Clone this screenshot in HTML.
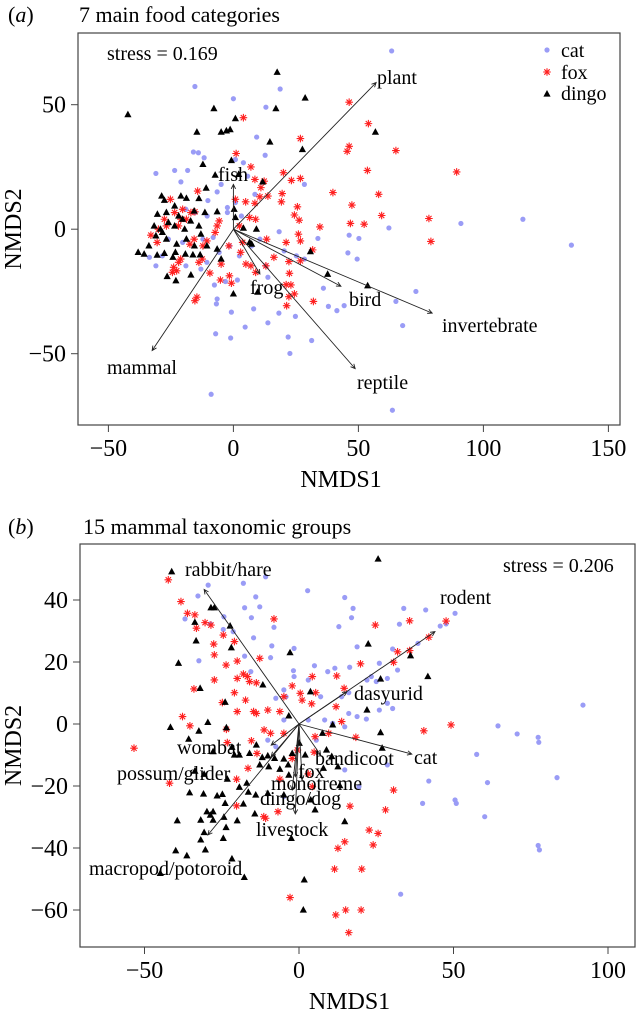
<!DOCTYPE html>
<html><head><meta charset="utf-8"><style>
html,body{margin:0;padding:0;background:#fff;}
svg{display:block;font-family:"Liberation Serif",serif;}
</style></head><body>
<svg id="chart" width="636" height="1019" viewBox="0 0 636 1019" xmlns="http://www.w3.org/2000/svg" font-family="Liberation Serif, serif"></svg>
<script>
// ---------- Panel A data ----------
const catA=[[63.3,71.6],[-15.4,57.3],[18.7,56.3],[0,52.4],[13,49],[9.3,37],[-16,31],[-14,30.7],[-11.7,28.7],[12.7,29.7],[-31,22.4],[-23.5,23.6],[-18.3,23.6],[-21,19],[28.4,18],[-6.5,15],[8.6,14],[-10.2,11.5],[-19,8],[-2.4,6.7],[3.2,5.3],[18.3,-1],[33.8,-3.7],[46.3,-2.4],[50.2,-3.7],[62.2,0.5],[91,2.3],[115.8,4],[135.2,-6.4],[45.8,-9.5],[49.5,-12],[73,-25],[65,-29],[67.7,-38.7],[36,-23.7],[38,-31],[41.4,-32.7],[44.3,-30.7],[18.2,-33.7],[24.8,-35],[13.8,-37.6],[4.7,-39.3],[-7.1,-42],[-1.1,-43.7],[21.9,-43.3],[31.3,-44.7],[22.6,-49.9],[-8.9,-66.3],[63.6,-72.7],[-0.8,-33.3],[8.1,-32],[-6.8,-30],[-6.5,-28],[-7.6,-22.4],[-3.2,-21],[1.6,-20.4],[13.8,-19.3],[-31,-14.7],[-28.4,-10.7],[-19,-14.7],[-13,-16],[-10.6,-13.3],[-33.6,-11.3],[-5.7,-9.3],[-1.6,-6.7],[2.4,-10.7],[7.3,-6.7],[-20.3,-5.3],[-26,-4],[-12.2,-4],[-8.1,-3.3],[-15.4,6.7],[-10.5,5.3],[-2.4,8.7],[0.8,10.7],[5.7,21.3],[4,26.7],[0.8,28],[-4.9,18],[25.2,-10.7],[28.4,-12],[20.3,-8.7],[10.6,-4],[13,-14.7]];
const foxA=[[46.3,51],[4,44.8],[54,42.4],[26.8,36.4],[46.3,33.3],[45.5,31.3],[65,31.6],[1.1,30.4],[7,25],[53.6,23.6],[89.3,23],[20,22.7],[23.2,19.6],[26.8,20.4],[39.8,14.7],[58.1,14],[19.5,14.3],[19.2,11],[25.6,9],[47.4,9.7],[11,16.7],[13.8,13.3],[10.6,13],[4.9,11],[8.6,10.4],[59.3,5.5],[24.4,5.7],[26.3,3.6],[34.6,0.9],[46.8,2.3],[52.3,2],[78.2,4.3],[79,-4.9],[26,-2],[26.8,-4.7],[21.1,-5.3],[13.3,-4],[8.9,4],[6.5,4.7],[2.4,1.3],[31.7,-8.3],[16.2,-11.3],[22.2,-13],[26.8,-12.7],[13,-14.7],[22.4,-17.7],[21.1,-22.3],[23,-22.4],[24.4,-26],[22.2,-27.1],[21.3,-30.7],[32,-29],[8.9,-17.3],[5,-14],[7,-14.7],[3.7,-5.3],[2.9,-9.3],[-1.8,-6.7],[-4.9,-14],[-1.6,-18.7],[-0.8,-21.7],[-5.2,-20.4],[-9.4,-17.6],[-14.6,-27.3],[-15.4,-28.7],[-21.9,-13.3],[-23.9,-15.3],[-22.7,-16.7],[-24.4,-17.3],[-21.1,-12],[-13.8,-13.3],[-12.5,-12],[-15.7,-4],[-17.4,-6],[-12.2,-6.7],[-10.6,-4.7],[-7.3,-1.3],[-6.5,1.3],[-5.7,3.3],[-14.3,15.3],[-25.2,12],[-17,6.7],[-18.8,4],[-22,1.3],[-27.6,4],[-30,0],[-33,-2.4],[-30.5,-5.3],[-26.8,1.3],[-23.5,6.7],[-20.3,8],[-15.4,7],[-21,4],[0.8,12],[8.6,20],[12.3,19.3]];
const dingoA=[[-42.2,46],[17.5,63],[28.7,52.7],[-7.8,48.4],[17,48.4],[0.8,44.4],[-14.6,39],[-4.9,39],[-2.8,39.5],[-1.3,40],[56.8,39],[14.6,35],[27.6,32],[-12.2,26],[-0.8,27.6],[-7.3,21.7],[2.1,22],[11.7,19],[-10.9,16.5],[0.3,8],[-28.7,13.3],[-27.6,11.6],[-21,13.3],[-18.8,12.4],[-13.8,12.3],[-23.5,9.3],[-30.4,6],[-26.8,6.7],[-21.9,5.3],[-15.7,7.3],[-11.4,6.7],[-6.5,7],[0.8,4.7],[4,0.4],[9.2,0],[-31.7,1.3],[-29.2,0],[-26,2.7],[-23.5,1.3],[-20.3,4],[-19.5,0],[-17.1,3.3],[-13.8,1.3],[-13,-2],[-31,-2.7],[-26.8,-4],[-22.7,-6],[-18.8,-4],[-15.6,-6.7],[-10.6,-6.7],[-6.5,-8],[-33.8,-6.7],[-38.1,-9.3],[-35.7,-10],[-30.5,-10.4],[-27.6,-9.7],[-23.2,-9.3],[-19.2,-10],[-16.2,-10.3],[-13.3,-10.3],[-4.9,-12],[6.5,-5.3],[7.3,-6],[30.8,-9],[37.7,-18.1],[53.7,-22.7],[9.7,-25.3],[0,-26],[-26.5,-19],[-23,-20.7],[-17,-18.4],[-24.2,-11.3],[-28.4,-1.3]];
const arrowNamesA=["plant","mammal","fish","frog","bird","invertebrate","reptile"];
const arrowTipsA=[[57.1,58.9],[-32.5,-48.7],[0,18],[10.6,-18],[43,-22.9],[79.5,-33.7],[48.7,-56]];
const xTicksA=[-50,0,50,100,150];
const yTicksA=[-50,0,50];
// ---------- Panel B data ----------
const catB=[[-29.4,44.8],[-18,45.4],[-10.8,47.5],[2.8,43],[14.8,40.8],[-32.7,41.3],[-14,41],[-17.6,37.5],[-12.7,37.8],[17.5,37.3],[33.9,37.3],[41,36.8],[50.5,35.7],[-36.9,33.9],[-28.7,32.3],[-24.3,34.6],[-15.4,34.3],[-8.1,31.2],[12.9,31.4],[17,34.3],[32.5,32.2],[45.7,31.6],[47.6,32.3],[-24.5,30.5],[-21.3,29.8],[-14.7,27.8],[-8.8,25.2],[-1.6,24.4],[18.8,24.9],[30.3,24.2],[38.5,26],[-32.4,20.4],[-17.6,21.9],[-15.6,16.9],[-9.2,21.4],[-1.8,17.2],[5,18.8],[9.3,16.9],[11.6,18],[16.4,18.3],[26,19.6],[31.9,17.4],[-1.6,15.3],[3,14.2],[22,14.2],[23.4,15.3],[25,13.7],[28.6,14.7],[13.8,8.8],[16.1,10.1],[-4.9,11],[-7.5,8.3],[-4.2,8.8],[7,8.8],[26,4.5],[28.6,6.7],[30.3,5],[21.8,1.6],[18.8,2.4],[16.1,3.4],[8.3,1.3],[3,1.3],[10.9,0.2],[14.8,-0.9],[-4.9,1.3],[64.4,-0.6],[70.6,-3.2],[77.4,-4.3],[77.6,-5.9],[91.9,6.1],[57.5,-9.8],[83.5,-17.3],[61,-18.9],[42,-18.4],[40,-25.6],[50.5,-24.5],[50.9,-25.6],[60.1,-29.9],[77.4,-39.2],[77.8,-40.6],[32.9,-54.9],[28.6,-13.2],[14.8,-14.8],[19.4,-20.2],[-4.9,-23.4],[-10.1,-5.2],[-7.5,-7.3],[5.6,-5.2]];
const foxB=[[-42.3,46.5],[-38.2,39.5],[-36.1,35.7],[-33.7,35.2],[-33.2,30.9],[-30.4,32.7],[-28.5,31.9],[-27.6,25.8],[-27.4,22.3],[-27.4,14.2],[-34,11.3],[-24.5,28.7],[-20.9,26.6],[-20,20.3],[-23.6,19],[-20,14.7],[-20.9,10.1],[-24.8,6.9],[-20,4],[-37.7,2.4],[-35.3,-0.6],[-23.5,-1.7],[-53.4,-7.8],[-41.9,-19.1],[-16.7,15.3],[-16,13.7],[-13.8,13.3],[-12.7,21.2],[-8.1,33.9],[-14.7,4],[-13.8,3.4],[-10.1,4.5],[-6.2,4],[-4.9,8.8],[-2.2,12.3],[0.4,9.9],[1,7.7],[4.3,15.3],[5.4,10.1],[4.1,6.5],[12.2,15.5],[14.6,11.5],[12,5.6],[19.9,19.4],[24.7,31.9],[35.8,33.3],[47.6,33.2],[42,28],[30.6,19.9],[31.9,23.3],[35.8,23.7],[13.8,0.8],[9.6,-3],[5.2,-4.1],[-0.5,-8.4],[-2.2,-11.1],[4.9,-9.1],[3,-16.1],[4.3,-20.2],[-6.2,-17.8],[-6.8,-28.3],[-11.4,-29.9],[-10.8,-30.4],[-20.2,-26.4],[-16.5,-14.3],[-11.3,-1.9],[-9.2,-3],[-4.9,-3],[-15.4,-5.4],[-13.6,-9.5],[-23.2,-6],[-20.2,-17.8],[18.4,-4.3],[16.5,-26.5],[28,-27.7],[30.6,-21.3],[40.4,-2.2],[49.2,-0.3],[22.7,-34.2],[25.6,-35.3],[24,-39],[14.8,-38],[12.6,-40.1],[11.5,-46.8],[20.3,-46.8],[-2.9,-56],[11.9,-61.6],[15.1,-60],[20.1,-60],[16.1,-67.3],[-18,16.1],[-17.3,7.7]];
const dingoB=[[-41.2,49.1],[25.6,53.2],[-33.7,32.8],[-28.5,37.5],[-27.4,37.5],[-33.3,26.8],[-22.3,31.6],[-21.9,24.6],[-39,19.6],[-32,11.5],[-2.9,23],[22.4,25.8],[36.1,22],[41.7,15.3],[26.4,14.5],[-23.9,7],[-11.7,12.6],[3.7,10.4],[22,4.5],[-41.6,-1.1],[-32.4,-2.3],[-29.5,0.5],[-23.5,-1.2],[-35.7,-4.9],[-3.3,2.6],[26.4,-2.8],[26.9,-7.8],[10.9,-0.3],[7.6,-3],[-27.8,-8.9],[-21.7,-7.5],[-20.9,-10],[-19.3,-10],[-13.8,-6.8],[-16,-9.5],[-11.9,-10.8],[-10.1,-10.3],[-7.9,-11.1],[-4.9,-11.3],[-2.2,-9.5],[0.1,-6.2],[2,-10],[8.9,-8.4],[10.6,-10.5],[12.6,-13.8],[7.9,-14.3],[-12.7,-13.2],[-9.8,-13.8],[-6.2,-14.6],[-3.5,-13.2],[-3.3,-16.5],[-33.7,-15.2],[-30.7,-16.2],[-23.2,-17.8],[-16.9,-19.1],[-19.3,-20.4],[-16.4,-22],[-14,-22.9],[-10.1,-22.4],[-4.9,-22.9],[3.8,-24.5],[5.2,-27.7],[13.2,-19.9],[-35.4,-22.2],[-30.9,-22.6],[-26.5,-23.2],[-24.8,-22.7],[-23.9,-25.6],[-18,-25.8],[-29.8,-28.3],[-27.8,-28.3],[-28.7,-29.4],[-31.8,-31],[-27.8,-31],[-24.3,-30.1],[-20,-31.2],[-14.3,-29],[-39.4,-31.2],[14.8,-31.5],[-30.7,-35],[-23.6,-33.4],[-31.8,-37.4],[-24.5,-36.9],[-2.5,-36.9],[-30.3,-40.6],[-39.9,-40.9],[-36.3,-42.5],[-21.7,-43.5],[-44.9,-48.2],[-17.7,-49.5],[1.7,-50.3],[1.4,-60]];
const arrowNamesB=["rabbit/hare","rodent","dasyurid","cat","bandicoot","wombat","possum/glider","fox","monotreme","dingo/dog","livestock","macropod/potoroid"];
const arrowTipsB=[[-30.7,43.4],[44,29.8],[15.5,10.4],[36.5,-9.7],[7,-10],[-9,-6.8],[-9,-10.5],[-1.2,-17],[1,-18],[-2.2,-21.3],[-1.2,-29],[-29.5,-35.8]];
const xTicksB=[-50,0,50,100];
const yTicksB=[-60,-40,-20,0,20,40];

const NS="http://www.w3.org/2000/svg";
const svg=document.getElementById('chart');
function mk(tag,attrs,parent){const e=document.createElementNS(NS,tag);for(const k in attrs)e.setAttribute(k,attrs[k]);(parent||svg).appendChild(e);return e;}
function txt(s,x,y,size,anchor,parent){const t=mk('text',{x:x,y:y,'font-size':size,'text-anchor':anchor||'start',fill:'#000','font-family':'Liberation Serif, serif'},parent);t.textContent=s;return t;}

function panel(cfg){
  const g=mk('g',{});
  
  
  const sx=v=>cfg.x0+v*cfg.kx, sy=v=>cfg.y0-v*cfg.ky;
  const box=mk('rect',{x:cfg.L,y:cfg.T,width:cfg.R-cfg.L,height:cfg.B-cfg.T,fill:'none',stroke:'#444','stroke-width':1.2},g);
  
  
  cfg.xt.forEach(v=>{
    const l=mk('line',{x1:sx(v),x2:sx(v),y1:cfg.B,y2:cfg.B+7,stroke:'#444'},g);
    
    
    const t=txt(String(v).replace('-','\u2212'),sx(v),cfg.B+31,24,'middle',g);
    
    
  });
  cfg.yt.forEach(v=>{
    const l=mk('line',{x1:cfg.L-7,x2:cfg.L,y1:sy(v),y2:sy(v),stroke:'#444'},g);
    
    
    const t=txt(String(v).replace('-','\u2212'),cfg.L-12,sy(v)+8,24,'end',g);
    
    
  });
  const xl=txt('NMDS1',(cfg.L+cfg.R)/2-8,cfg.B+62,24,'middle',g);
  
  
  const yl=txt('NMDS2',0,0,24,'middle',g);
  yl.setAttribute('transform','translate(21,'+((cfg.T+cfg.B)/2)+') rotate(-90)');
  
  
  cfg.cat.forEach(p=>{
    const c=mk('circle',{cx:sx(p[0]),cy:sy(p[1]),r:2.6,fill:'#9a9cf6'},g);
    
    
  });
  cfg.fox.forEach(p=>{
    const x=sx(p[0]),y=sy(p[1]),r=3.8;
    const d=`M${x-r},${y}H${x+r}M${x},${y-r}V${y+r}M${x-r*0.7},${y-r*0.7}L${x+r*0.7},${y+r*0.7}M${x-r*0.7},${y+r*0.7}L${x+r*0.7},${y-r*0.7}`;
    const e=mk('path',{d:d,stroke:'#ff2020','stroke-width':1.1,fill:'none'},g);
    
    
  });
  cfg.dingo.forEach(p=>{
    const x=sx(p[0]),y=sy(p[1]);
    const e=mk('path',{d:`M${x},${y-4}L${x+3.6},${y+2.6}L${x-3.6},${y+2.6}Z`,fill:'#000'},g);
    
    
  });
  cfg.tips.forEach((p,i)=>{
    const x1=sx(0),y1=sy(0),x2=sx(p[0]),y2=sy(p[1]);
    const a=Math.atan2(y2-y1,x2-x1),h=5;
    const d=`M${x1},${y1}L${x2},${y2}M${x2-h*Math.cos(a-0.45)},${y2-h*Math.sin(a-0.45)}L${x2},${y2}L${x2-h*Math.cos(a+0.45)},${y2-h*Math.sin(a+0.45)}`;
    const e=mk('path',{d:d,stroke:'#222','stroke-width':0.9,fill:'none'},g);
    
    
  });
  cfg.labels.forEach((lp,i)=>{
    const t=txt(cfg.names[i],lp[0],lp[1]+7,20,'start',g);
    
    
  });
  return g;
}

panel({name:'panel-a',L:78,R:620,T:33,B:425,x0:233.4,kx:2.5,y0:229.2,ky:2.49,xt:xTicksA,yt:yTicksA,
  cat:catA,fox:foxA,dingo:dingoA,tips:arrowTipsA,names:arrowNamesA,
  labels:[[377,77],[107,367],[218,174],[250,287],[349,299],[442,325],[357,382]]});
panel({name:'panel-b',L:80,R:635,T:544,B:947,x0:299,kx:3.09,y0:724,ky:3.1,xt:xTicksB,yt:yTicksB,
  cat:catB,fox:foxB,dingo:dingoB,tips:arrowTipsB,names:arrowNamesB,
  labels:[[185,569],[440,597],[354,693],[414,757],[315,758],[177,747],[117,773],[298,771],[271,783],[260,798],[256,829],[89,868]]});

let t;
t=txt('',8,22,22,'start');t.innerHTML='(<tspan font-style="italic">a</tspan>)';


t=txt('7 main food categories',79,22,22,'start');


t=txt('stress  =  0.169',107,60,20,'start');


t=txt('',8,534,22,'start');t.innerHTML='(<tspan font-style="italic">b</tspan>)';


t=txt('15 mammal  taxonomic groups',83,534,22,'start');


t=txt('stress = 0.206',503,572,20,'start');


const lg=mk('g',{});


let e=mk('circle',{cx:547,cy:50,r:2.6,fill:'#9a9cf6'},lg);


e=mk('path',{d:'M543.2,72H550.8M547,68.2V75.8M544.3,69.3L549.7,74.7M544.3,74.7L549.7,69.3',stroke:'#ff2020','stroke-width':1.1,fill:'none'},lg);


e=mk('path',{d:'M547,90L550.6,96.6L543.4,96.6Z',fill:'#000'},lg);


t=txt('cat',561,57,20,'start',lg);


t=txt('fox',561,79,20,'start',lg);


t=txt('dingo',561,100,20,'start',lg);


</script>
</body></html>
